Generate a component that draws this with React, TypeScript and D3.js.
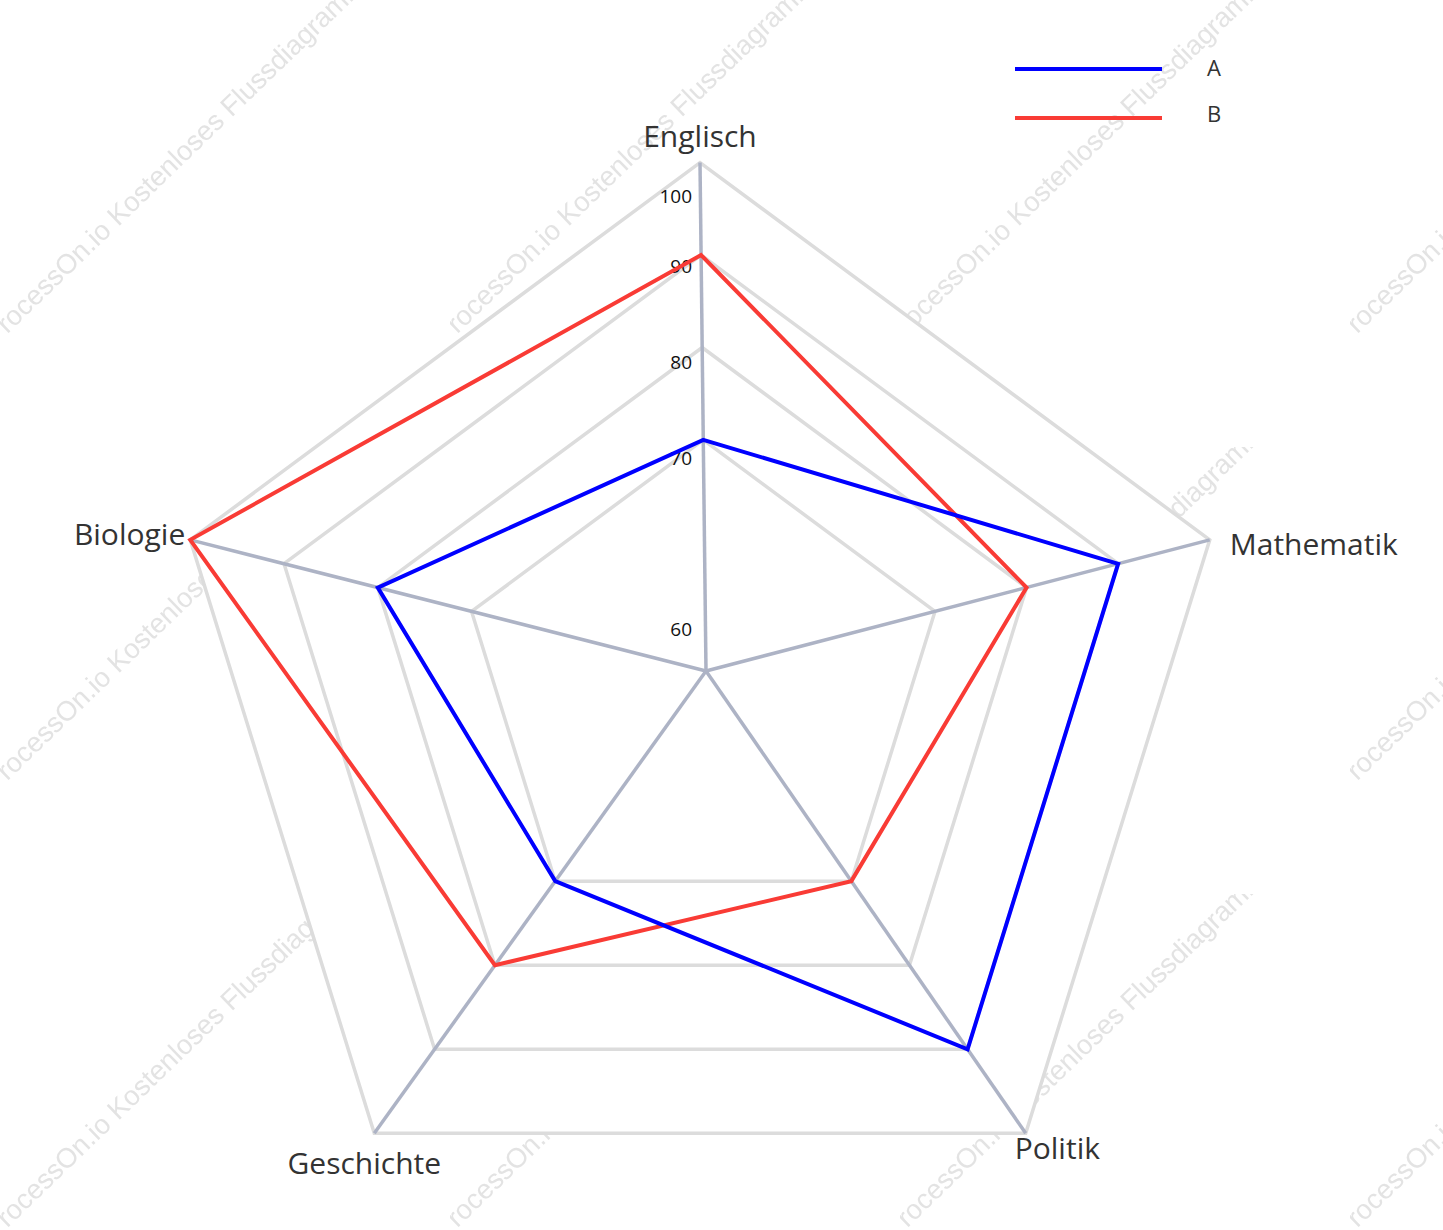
import React from 'react';
import * as d3 from 'd3';

// chart data
const categories = ['Englisch', 'Mathematik', 'Politik', 'Geschichte', 'Biologie'];
const seriesNames = ['A', 'B'];
const seriesA = [70, 90, 90, 70, 80];
const seriesB = [90, 80, 70, 80, 100];
const tickValues = [60, 70, 80, 90, 100];
const ringValues = [70, 80, 90, 100];
const watermarkText = 'ProcessOn.io Kostenloses Flussdiagramm';

const seriesColors = ['#0000ff', '#f93b35'];

const width = 1443;
const height = 1230;

// frame of the radar (outer pentagon, slightly widened towards the bottom)
// and the hub where the axes meet
const frame = { x: 700, y: 706, rx: 541, ry: 535, kx: 0.03, ky: -0.0157 };
const hub = { x: 706, y: 671 };

// label layout relative to each outer vertex
const labelAnchor = ['middle', 'start', 'start', 'middle', 'end'];
const labelOffset: [number, number][] = [[0, -16], [20, 15], [-11, 26], [-10, 41], [-5, 5]];

type Pt = { x: number; y: number };

const App: React.FC = () => {
  const angle = d3.scaleLinear()
    .domain([0, categories.length])
    .range([0, 2 * Math.PI]);

  const radius = d3.scaleLinear()
    .domain([45, 100])
    .range([0, 1]);

  // tick labels sit a bit off the rings
  const tickPos = d3.scaleLinear()
    .domain(tickValues)
    .range([0.083, 0.418, 0.607, 0.796, 0.935]);

  const vertices: Pt[] = categories.map((_, i) => {
    const a = angle(i);
    return {
      x: frame.x + frame.rx * Math.sin(a) * (1 - frame.kx * Math.cos(a)),
      y: frame.y - frame.ry * Math.cos(a) * (1 - frame.ky * Math.cos(a))
    };
  });

  const pointAt = (i: number, v: number): Pt =>
    d3.interpolateObject(hub, vertices[i])(radius(v)) as Pt;

  const closedLine = d3.line<Pt>()
    .x(d => d.x)
    .y(d => d.y)
    .curve(d3.curveLinearClosed);

  const series = [seriesA, seriesB];

  return (
    <div style={{ position: 'absolute', left: 0, top: 0 }}>
      <svg width={width} height={height} style={{ display: 'block', background: '#fff' }}>
        <defs>
          <pattern id="wm" patternUnits="userSpaceOnUse" x={0} y={0} width={450} height={447}>
            <text
              transform="translate(-6,347) rotate(-44)"
              fontFamily="'Liberation Sans', Arial, sans-serif"
              fontSize={27.5}
              fill="#e3e3e3"
            >
              {watermarkText}
            </text>
          </pattern>
        </defs>

        {/* watermark */}
        <rect x={0} y={0} width={width} height={height} fill="url(#wm)" />

        {/* radar area covers the watermark */}
        <path d={closedLine(vertices) || ''} fill="#fff" />

        {/* rings */}
        <g fill="none" stroke="#dcdcdc" strokeWidth={3.5}>
          {ringValues.map(v => (
            <path key={v} d={closedLine(categories.map((_, i) => pointAt(i, v))) || ''} />
          ))}
        </g>

        {/* axes */}
        <g stroke="#adb3c5" strokeWidth={3.5}>
          {vertices.map((p, i) => (
            <line key={i} x1={hub.x} y1={hub.y} x2={p.x} y2={p.y} />
          ))}
        </g>

        {/* tick labels */}
        <g fontFamily="'Open Sans', sans-serif" fontSize={19} fill="#111" textAnchor="end">
          {tickValues.map(v => (
            <text
              key={v}
              x={hub.x - 14}
              y={hub.y - tickPos(v) * (hub.y - vertices[0].y)}
              dominantBaseline="central"
            >
              {v}
            </text>
          ))}
        </g>

        {/* series, B below A */}
        {[1, 0].map(s => (
          <path
            key={s}
            d={closedLine(series[s].map((v, i) => pointAt(i, v))) || ''}
            fill="none"
            stroke={seriesColors[s]}
            strokeWidth={4}
            strokeLinejoin="miter"
          />
        ))}

        {/* category labels */}
        <g fontFamily="'Open Sans', sans-serif" fontSize={30} fill="#333">
          {categories.map((c, i) => (
            <text
              key={c}
              x={vertices[i].x + labelOffset[i][0]}
              y={vertices[i].y + labelOffset[i][1]}
              textAnchor={labelAnchor[i]}
            >
              {c}
            </text>
          ))}
        </g>

        {/* legend */}
        <g fontFamily="'Open Sans', sans-serif" fontSize={22} fill="#333">
          {seriesNames.map((n, i) => (
            <g key={n}>
              <line
                x1={1015}
                x2={1162}
                y1={69 + i * 49}
                y2={69 + i * 49}
                stroke={seriesColors[i]}
                strokeWidth={4}
              />
              <text x={1207} y={67 + i * 46} dominantBaseline="central">{n}</text>
            </g>
          ))}
        </g>
      </svg>
    </div>
  );
};

export default App;
